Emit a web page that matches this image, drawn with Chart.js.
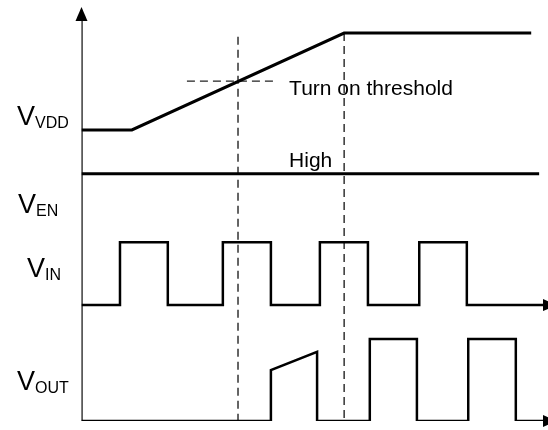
<!DOCTYPE html>
<html>
<head>
<meta charset="utf-8">
<script src="https://cdn.jsdelivr.net/npm/chart.js@4/dist/chart.umd.min.js"></script>
<style>
  html, body { margin: 0; padding: 0; background: #fff; }
  #wrap { width: 548px; height: 430px; }
</style>
</head>
<body>
<div id="wrap"><canvas id="timing"></canvas></div>
<script>
// time runs 0 (vertical axis) .. 100 (right edge); levels 0 .. 10 (bottom .. arrow tip)
const vddTimes = [0, 10.8, 56.3, 96.4];
const vddLevels = [7.03, 7.03, 9.37, 9.37];
const enTimes = [0, 98.1];
const enLevels = [5.97, 5.97];
const vinPulses = [[8.25, 18.5], [30.3, 40.6], [51.1, 61.4], [72.4, 82.6]];
const vinLow = 2.8;
const vinHigh = 4.32;
const voutRampTimes = [40.6, 50.5];
const voutRampLevels = [1.23, 1.67];
const voutPulses = [[61.8, 71.9], [82.9, 93.1]];
const voutHigh = 1.98;
const thresholdLevel = 8.21;
const thresholdSpan = [22.6, 41.5];
const markerTimes = [33.55, 56.3];
const markerTops = [9.28, 9.37];

const labels = [
  { main: 'V', sub: 'VDD', x: 17, y: 125 },
  { main: 'V', sub: 'EN', x: 18, y: 213 },
  { main: 'V', sub: 'IN', x: 27, y: 277 },
  { main: 'V', sub: 'OUT', x: 17, y: 390 }
];
const notes = [
  { text: 'Turn on threshold', t: 44.5, v: 7.87 },
  { text: 'High', t: 44.5, v: 6.14 }
];

const FONT = '"Liberation Sans", Arial, sans-serif';

function zip(xs, ys) {
  return xs.map((x, i) => ({ x, y: ys[i] }));
}

function squareWave(pulses, low, high, end) {
  const pts = [{ x: 0, y: low }];
  pulses.forEach(([a, b]) => {
    pts.push({ x: a, y: low }, { x: a, y: high }, { x: b, y: high }, { x: b, y: low });
  });
  pts.push({ x: end, y: low });
  return pts;
}

function voutPoints() {
  const pts = [{ x: 0, y: 0 }];
  pts.push({ x: voutRampTimes[0], y: 0 });
  pts.push(...zip(voutRampTimes, voutRampLevels));
  pts.push({ x: voutRampTimes[1], y: 0 });
  voutPulses.forEach(([a, b]) => {
    pts.push({ x: a, y: 0 }, { x: a, y: voutHigh }, { x: b, y: voutHigh }, { x: b, y: 0 });
  });
  pts.push({ x: 100, y: 0 });
  return pts;
}

function solid(data, width) {
  return { data, borderColor: '#000', borderWidth: width, pointRadius: 0, fill: false, tension: 0, showLine: true };
}
function dashed(data) {
  return { data, borderColor: '#222', borderWidth: 1.4, borderDash: [8, 5], pointRadius: 0, fill: false, tension: 0, showLine: true };
}

const datasets = [
  solid([{ x: 0, y: 0 }, { x: 0, y: 9.7 }], 2.3),
  solid(zip(vddTimes, vddLevels), 3),
  solid(zip(enTimes, enLevels), 3),
  solid(squareWave(vinPulses, vinLow, vinHigh, 100), 2.5),
  solid(voutPoints(), 2.5),
  dashed([{ x: thresholdSpan[0], y: thresholdLevel }, { x: thresholdSpan[1], y: thresholdLevel }])
];
markerTimes.forEach((t, i) => {
  datasets.push(dashed([{ x: t, y: markerTops[i] }, { x: t, y: 0 }]));
});

const decorations = {
  id: 'decorations',
  afterDatasetsDraw(chart) {
    const ctx = chart.ctx;
    const xs = chart.scales.x;
    const ys = chart.scales.y;
    ctx.save();
    ctx.fillStyle = '#000';

    // arrow heads
    const ax = xs.getPixelForValue(0);
    const top = ys.getPixelForValue(10);
    ctx.beginPath();
    ctx.moveTo(ax, top);
    ctx.lineTo(ax - 6, top + 14);
    ctx.lineTo(ax + 6, top + 14);
    ctx.closePath();
    ctx.fill();
    [vinLow, 0].forEach((lvl) => {
      const y = ys.getPixelForValue(lvl);
      const base = chart.chartArea.right - 5;
      ctx.beginPath();
      ctx.moveTo(base + 14, y);
      ctx.lineTo(base, y - 6);
      ctx.lineTo(base, y + 6);
      ctx.closePath();
      ctx.fill();
    });

    // signal names
    ctx.textBaseline = 'alphabetic';
    ctx.textAlign = 'left';
    labels.forEach((l) => {
      ctx.font = '27px ' + FONT;
      ctx.fillText(l.main, l.x, l.y);
      const w = ctx.measureText(l.main).width;
      ctx.font = '16px ' + FONT;
      ctx.fillText(l.sub, l.x + w, l.y + 3);
    });

    ctx.font = '21px ' + FONT;
    notes.forEach((n) => {
      ctx.fillText(n.text, xs.getPixelForValue(n.t), ys.getPixelForValue(n.v));
    });
    ctx.restore();
  }
};

new Chart(document.getElementById('timing'), {
  type: 'scatter',
  data: { datasets },
  options: {
    animation: false,
    responsive: true,
    maintainAspectRatio: false,
    layout: { padding: { left: 81.5, right: 0, top: 7, bottom: 9 } },
    plugins: { legend: { display: false }, tooltip: { enabled: false } },
    scales: {
      x: { type: 'linear', min: 0, max: 100, display: false },
      y: { type: 'linear', min: 0, max: 10, display: false }
    }
  },
  plugins: [decorations]
});
</script>
</body>
</html>
